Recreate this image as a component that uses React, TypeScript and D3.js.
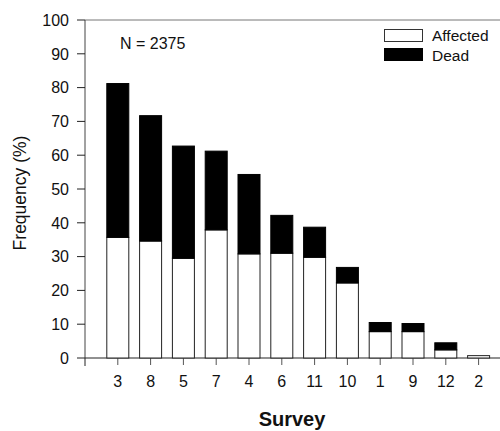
import React from "react";
import * as d3 from "d3";

// survey order as shown on the x axis
const surveys = ["3", "8", "5", "7", "4", "6", "11", "10", "1", "9", "12", "2"];
const affected = [35.7, 34.6, 29.5, 37.9, 30.8, 31.0, 29.8, 22.2, 7.8, 7.8, 2.4, 0.7];
const total = [81.2, 71.7, 62.7, 61.2, 54.3, 42.2, 38.7, 26.8, 10.5, 10.2, 4.5, 0.7];
const yTicks = [0, 10, 20, 30, 40, 50, 60, 70, 80, 90, 100];

const W = 500;
const H = 431;
const font = "Arial, 'Liberation Sans', Helvetica, sans-serif";

export default function App() {
  const left = 85;
  const top = 20;
  const bottom = 358;

  const x = d3.scaleLinear().domain([0, 13]).range([left, left + 13 * 32.8]);
  const y = d3.scaleLinear().domain([0, 100]).range([bottom, top]);
  const barW = 22;

  const dead = total.map((t, i) => Math.max(0, t - affected[i]));

  return (
    <svg width={W} height={H} style={{ position: "absolute", left: 0, top: 0 }} fontFamily={font}>
      <rect width={W} height={H} fill="#fff" />

      {/* frame */}
      <line x1={left} x2={W} y1={top} y2={top} stroke="#777" strokeWidth={1} />
      <line x1={left} x2={left} y1={top} y2={bottom} stroke="#444" strokeWidth={1} />
      <line x1={left} x2={W} y1={bottom} y2={bottom} stroke="#222" strokeWidth={1} />

      {/* y axis */}
      {yTicks.map(t => (
        <g key={t}>
          <line x1={left - 8} x2={left} y1={y(t)} y2={y(t)} stroke="#222" />
          <text x={69} y={y(t)} dy="0.36em" textAnchor="end" fontSize={16} fill="#111">{t}</text>
        </g>
      ))}

      {/* x axis */}
      <line x1={x(0)} x2={x(0)} y1={bottom} y2={bottom + 8} stroke="#222" />
      {surveys.map((s, i) => (
        <g key={s}>
          <line x1={x(i + 1)} x2={x(i + 1)} y1={bottom} y2={bottom + 7} stroke="#555" />
          <text x={x(i + 1)} y={387} textAnchor="middle" fontSize={16} fill="#111">{s}</text>
        </g>
      ))}

      {/* bars */}
      {surveys.map((s, i) => (
        <g key={"b" + s}>
          <rect
            x={x(i + 1) - barW / 2}
            y={y(affected[i])}
            width={barW}
            height={y(0) - y(affected[i])}
            fill="#fff"
            stroke="#222"
            strokeWidth={1}
          />
          {dead[i] > 0 && (
            <rect
              x={x(i + 1) - barW / 2}
              y={y(total[i])}
              width={barW}
              height={y(affected[i]) - y(total[i])}
              fill="#000"
              stroke="#000"
              strokeWidth={1}
            />
          )}
        </g>
      ))}

      <text x={120} y={49} fontSize={16} fill="#111">N = 2375</text>

      {/* legend */}
      <rect x={384.5} y={29.5} width={38} height={12} fill="#fff" stroke="#333" />
      <text x={432} y={41} fontSize={15.5} fill="#111">Affected</text>
      <rect x={384.5} y={48.5} width={38} height={12} fill="#000" stroke="#000" />
      <text x={432} y={61} fontSize={15.5} fill="#111">Dead</text>

      {/* titles */}
      <text
        transform={`translate(26, 193) rotate(-90)`}
        textAnchor="middle"
        fontSize={17.5}
        fill="#111"
      >
        Frequency (%)
      </text>
      <text x={292} y={426} textAnchor="middle" fontSize={20} fontWeight="bold" fill="#111">Survey</text>
    </svg>
  );
}
